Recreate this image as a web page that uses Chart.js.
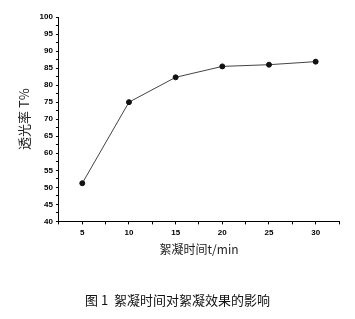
<!DOCTYPE html>
<html>
<head>
<meta charset="utf-8">
<script src="https://cdn.jsdelivr.net/npm/chart.js@4"></script>
<style>
  html, body { margin: 0; padding: 0; background: #fff; }
  #wrap { width: 355px; height: 319px; position: relative; }
</style>
</head>
<body>
<div id="wrap"><canvas id="myChart" width="355" height="319"></canvas></div>
<script>
// flocculation time (min) vs transmittance (%)
const times = [5, 10, 15, 20, 25, 30];
const transmittance = [51.2, 75, 82.3, 85.5, 86, 86.9];
const xTitle = "絮凝时间t/min";
const yTitle = "透光率 T%";
const caption = "图 1  絮凝时间对絮凝效果的影响";

document.addEventListener("DOMContentLoaded", function () {
  const tickFont = { family: "Liberation Sans", size: 8, weight: "bold" };
  const points = times.map((t, i) => ({ x: t, y: transmittance[i] }));

  new Chart("myChart", {
    type: "line",
    data: {
      datasets: [{
        data: points,
        borderColor: "#444",
        borderWidth: 1,
        pointBackgroundColor: "#111",
        pointBorderColor: "#111",
        pointRadius: 2.5,
        tension: 0
      }]
    },
    options: {
      responsive: false,
      animation: false,
      layout: { padding: { top: 17, right: 16, left: 16, bottom: 0 } },
      plugins: {
        legend: { display: false },
        tooltip: { enabled: false },
        title: {
          display: true,
          position: "bottom",
          text: caption,
          color: "#111",
          font: { family: "Noto Sans CJK SC", size: 13, weight: "normal" },
          padding: { top: 36, bottom: 11 }
        }
      },
      scales: {
        x: {
          type: "linear",
          min: 2.5,
          max: 32.5,
          grid: { drawOnChartArea: false, drawTicks: true, tickLength: 3, color: "#000" },
          border: { display: true, color: "#000", width: 1 },
          ticks: {
            stepSize: 2.5,
            autoSkip: false,
            maxRotation: 0,
            color: "#000",
            font: tickFont,
            padding: 4,
            callback: v => (v % 5 === 0 ? v : "")
          },
          title: {
            display: true,
            text: xTitle,
            color: "#222",
            font: { family: "Noto Sans CJK SC", size: 12 },
            padding: { top: 0, bottom: 0 }
          }
        },
        y: {
          min: 40,
          max: 100,
          grid: { drawOnChartArea: false, drawTicks: true, tickLength: 3, color: "#000" },
          border: { display: true, color: "#000", width: 1 },
          ticks: {
            stepSize: 2.5,
            autoSkip: false,
            color: "#000",
            font: tickFont,
            padding: 3,
            callback: v => (v % 5 === 0 ? v : "")
          },
          title: {
            display: true,
            text: yTitle,
            color: "#222",
            font: { family: "Noto Sans CJK SC", size: 13 },
            padding: { top: 0, bottom: 5 }
          }
        }
      }
    }
  });
});
</script>
</body>
</html>
